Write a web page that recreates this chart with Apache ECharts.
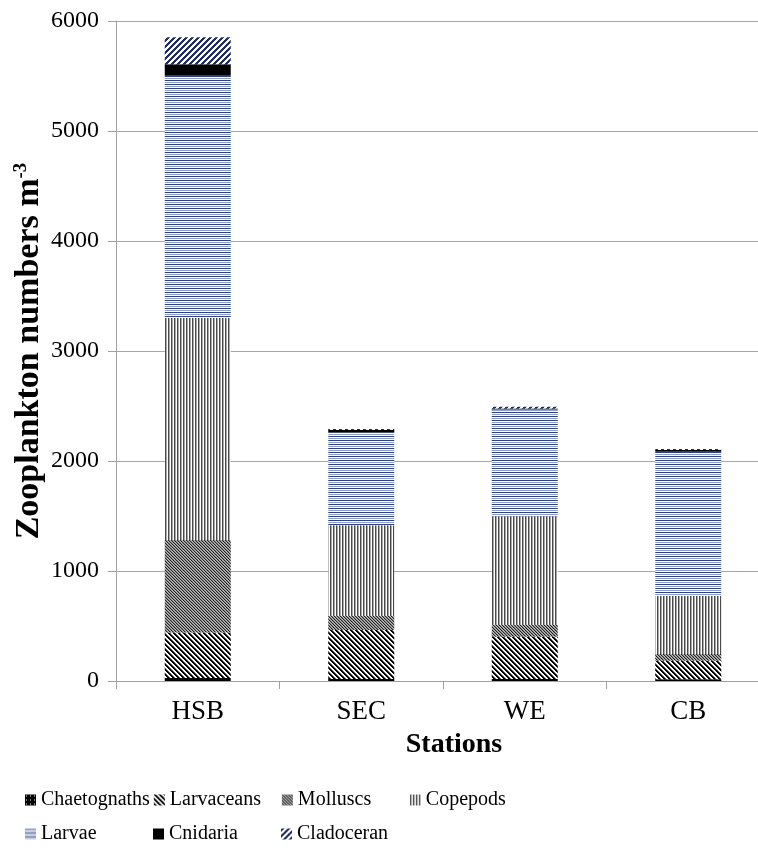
<!DOCTYPE html>
<html>
<head>
<meta charset="utf-8">
<script src="https://cdn.jsdelivr.net/npm/echarts@6/dist/echarts.min.js"></script>
<style>
html,body{margin:0;padding:0;background:#fff;overflow:hidden;}
#chart{width:770px;height:851px;}
</style>
</head>
<body>
<div id="chart"></div>
<script>
// ---- data ----
var stations = ['HSB', 'SEC', 'WE', 'CB'];
var seriesNames = ['Chaetognaths', 'Larvaceans', 'Molluscs', 'Copepods', 'Larvae', 'Cnidaria', 'Cladoceran'];
var chaetognaths = [27, 18, 18, 15];
var larvaceans = [415, 445, 385, 170];
var molluscs = [840, 127, 105, 60];
var copepods = [2020, 825, 990, 530];
var larvae = [2200, 845, 970, 1310];
var cnidaria = [105, 22, 10, 15];
var cladoceran = [245, 10, 15, 10];
var yTicks = [0, 1000, 2000, 3000, 4000, 5000, 6000];

// ---- patterns ----
function makePattern(w, h, fn) {
  var c = document.createElement('canvas');
  c.width = w; c.height = h;
  var ctx = c.getContext('2d');
  ctx.fillStyle = '#ffffff';
  ctx.fillRect(0, 0, w, h);
  for (var y = 0; y < h; y++) {
    for (var x = 0; x < w; x++) {
      var col = fn(x, y);
      if (col) { ctx.fillStyle = col; ctx.fillRect(x, y, 1, 1); }
    }
  }
  return { image: c, repeat: 'repeat' };
}
function mod(a, n) { return ((a % n) + n) % n; }

var styles = [
  makePattern(4, 4, function (x, y) { return (x === 1 && y === 1) ? '#ffffff' : '#000000'; }),
  makePattern(5, 5, function (x, y) { var m = mod(x - y, 5); return m < 2 ? '#000000' : (m === 2 ? '#666666' : null); }),
  makePattern(3, 3, function (x, y) { var m = mod(x - y, 3); return m === 0 ? '#222222' : (m === 1 ? '#8a8a8a' : '#b8b8b8'); }),
  makePattern(3, 1, function (x, y) { return x === 0 ? '#4a4a4a' : (x === 1 ? '#a8a8a8' : null); }),
  makePattern(1, 4, function (x, y) { return y === 0 ? '#2e4186' : (y === 2 ? '#8d9dca' : null); }),
  '#000000',
  makePattern(6, 6, function (x, y) { return mod(x + y, 6) < 3 ? '#1f2d6b' : null; })
];
var values = [chaetognaths, larvaceans, molluscs, copepods, larvae, cnidaria, cladoceran];

var FONT = 'Liberation Serif';
var chart = echarts.init(document.getElementById('chart'), null, { renderer: 'canvas' });

var series = seriesNames.map(function (name, i) {
  return {
    name: name,
    type: 'bar',
    stack: 'total',
    barWidth: 66,
    data: values[i],
    itemStyle: { color: styles[i] },
    emphasis: { disabled: true }
  };
});

chart.setOption({
  animation: false,
  backgroundColor: '#ffffff',
  textStyle: { fontFamily: FONT, color: '#000' },
  grid: { left: 116, top: 21, right: 0, height: 660, containLabel: false },
  legend: {
    data: seriesNames,
    left: 25,
    top: 785,
    width: 520,
    padding: 0,
    orient: 'horizontal',
    itemWidth: 11,
    itemHeight: 11,
    itemGap: 4,
    icon: 'rect',
    textStyle: { fontFamily: FONT, fontSize: 20, color: '#000', width: 108, lineHeight: 30, overflow: 'none' }
  },
  xAxis: {
    type: 'category',
    data: stations,
    name: 'Stations',
    nameLocation: 'middle',
    nameGap: 50,
    nameMoveOverlap: false,
    nameTextStyle: { fontFamily: FONT, fontSize: 28, fontWeight: 'bold', color: '#000', padding: [0, 0, 0, 22] },
    axisLine: { lineStyle: { color: '#a0a0a0', width: 1 } },
    axisTick: { show: true, length: 8, lineStyle: { color: '#a0a0a0' } },
    axisLabel: { fontFamily: FONT, fontSize: 27, color: '#000', margin: 17 }
  },
  yAxis: {
    type: 'value',
    min: 0,
    max: 6000,
    interval: 1000,
    name: 'Zooplankton numbers m{sup|-3}',
    nameLocation: 'middle',
    nameGap: 70,
    nameMoveOverlap: false,
    nameTextStyle: {
      fontFamily: FONT, fontSize: 34, fontWeight: 'bold', color: '#000',
      rich: { sup: { fontFamily: FONT, fontSize: 19, fontWeight: 'bold', color: '#000', verticalAlign: 'top' } }
    },
    axisLine: { show: true, lineStyle: { color: '#a0a0a0', width: 1 } },
    axisTick: { show: true, length: 8, lineStyle: { color: '#a0a0a0' } },
    axisLabel: {
      fontFamily: FONT, fontSize: 24, color: '#000', margin: 17,
      formatter: function (v) { return yTicks.indexOf(v) >= 0 ? String(v) : ''; }
    },
    splitLine: { show: true, lineStyle: { color: '#a6a6a6', width: 1 } }
  },
  series: series
});
</script>
</body>
</html>
